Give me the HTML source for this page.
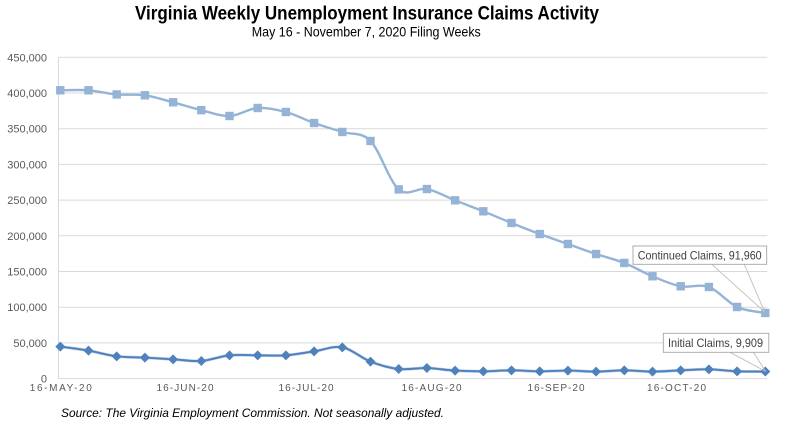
<!DOCTYPE html>
<html>
<head>
<meta charset="utf-8">
<style>
  html, body { margin: 0; padding: 0; background: #ffffff; }
  svg { display: block; }
  text { font-family: "Liberation Sans", sans-serif; }
</style>
</head>
<body>
<svg id="chart" width="796" height="422" viewBox="0 0 796 422" xmlns="http://www.w3.org/2000/svg">
  <rect x="0" y="0" width="796" height="422" fill="#ffffff"/>
  <!-- Title -->
  <text x="367" y="19.5" text-anchor="middle" font-size="19" font-weight="bold" fill="#000000" textLength="464" lengthAdjust="spacingAndGlyphs">Virginia Weekly Unemployment Insurance Claims Activity</text>
  <text x="366.3" y="36.5" text-anchor="middle" font-size="14" fill="#000000" textLength="229" lengthAdjust="spacingAndGlyphs">May 16 - November 7, 2020 Filing Weeks</text>

  <!-- Gridlines -->
  <g stroke="#D9D9D9" stroke-width="1">
    <line x1="58.5" y1="57.3" x2="767.3" y2="57.3"/>
    <line x1="58.5" y1="93" x2="767.3" y2="93"/>
    <line x1="58.5" y1="128.7" x2="767.3" y2="128.7"/>
    <line x1="58.5" y1="164.4" x2="767.3" y2="164.4"/>
    <line x1="58.5" y1="200.1" x2="767.3" y2="200.1"/>
    <line x1="58.5" y1="235.8" x2="767.3" y2="235.8"/>
    <line x1="58.5" y1="271.5" x2="767.3" y2="271.5"/>
    <line x1="58.5" y1="307.2" x2="767.3" y2="307.2"/>
    <line x1="58.5" y1="342.9" x2="767.3" y2="342.9"/>
  </g>
  <!-- Axes -->
  <line x1="58.5" y1="57" x2="58.5" y2="378.6" stroke="#D9D9D9" stroke-width="1"/>
  <line x1="58.5" y1="378.6" x2="767.3" y2="378.6" stroke="#D9D9D9" stroke-width="1"/>

  <!-- Y labels -->
  <g font-size="11" fill="#595959" text-anchor="end">
    <text x="47" y="61.3">450,000</text>
    <text x="47" y="97">400,000</text>
    <text x="47" y="132.7">350,000</text>
    <text x="47" y="168.4">300,000</text>
    <text x="47" y="204.1">250,000</text>
    <text x="47" y="239.8">200,000</text>
    <text x="47" y="275.5">150,000</text>
    <text x="47" y="311.2">100,000</text>
    <text x="47" y="346.9">50,000</text>
    <text x="47" y="382.6">0</text>
  </g>

  <!-- X labels -->
  <g font-size="10" fill="#595959" text-anchor="middle">
    <text x="60.8" y="391" textLength="62" lengthAdjust="spacing">16-MAY-20</text>
    <text x="185" y="391" textLength="57" lengthAdjust="spacing">16-JUN-20</text>
    <text x="306" y="391" textLength="55" lengthAdjust="spacing">16-JUL-20</text>
    <text x="431.5" y="391" textLength="60" lengthAdjust="spacing">16-AUG-20</text>
    <text x="556" y="391" textLength="57" lengthAdjust="spacing">16-SEP-20</text>
    <text x="676.5" y="391" textLength="59" lengthAdjust="spacing">16-OCT-20</text>
  </g>

  <g id="series"></g>

  <!-- Callout leader lines -->
  <g stroke="#BFBFBF" stroke-width="0.9" fill="none">
    <line x1="711.7" y1="264.3" x2="764.7" y2="312"/>
    <line x1="744.3" y1="264.3" x2="764.7" y2="312"/>
    <line x1="730" y1="352.3" x2="765.7" y2="371.5"/>
    <line x1="753.3" y1="352.3" x2="765.7" y2="371.5"/>
  </g>
  <rect x="633" y="246" width="133.7" height="18.3" fill="#ffffff" stroke="#A6A6A6" stroke-width="0.9"/>
  <text x="699.7" y="259.5" text-anchor="middle" font-size="12" fill="#404040" textLength="124" lengthAdjust="spacingAndGlyphs">Continued Claims, 91,960</text>
  <rect x="663.3" y="333.3" width="105.5" height="19" fill="#ffffff" stroke="#A6A6A6" stroke-width="0.9"/>
  <text x="715.5" y="347" text-anchor="middle" font-size="12" fill="#404040" textLength="95" lengthAdjust="spacingAndGlyphs">Initial Claims, 9,909</text>

  <!-- Source -->
  <text x="61" y="417" font-size="12" font-style="italic" fill="#000000" textLength="383" lengthAdjust="spacingAndGlyphs">Source: The Virginia Employment Commission. Not seasonally adjusted.</text>
</svg>
<script>
(function(){
  var NS = "http://www.w3.org/2000/svg";
  var g = document.getElementById("series");
  function X(i){ return 60.3 + i*28.2; }
  function Y(v){ return 378.6 - v*0.714; }
  var cont = [403.8,403.8,398,396.8,387,376,367.8,379,373.4,358,345.4,332.8,265,265.5,249.7,234.3,218,202.5,188.5,174.5,162,143.3,129.3,128.3,100.3,91.96];
  var init = [44.8,39.2,31.2,29.4,27,24.7,32.6,32.6,32.6,38.2,43.8,23.8,13.5,14.8,11.2,10.2,11.6,10.2,11.2,9.8,11.6,9.8,11.6,13,10.2,9.909];
  function pts(arr){ return arr.map(function(v,i){ return [X(i), Y(v)]; }); }
  function smooth(p){
    var d = "M" + p[0][0].toFixed(2) + "," + p[0][1].toFixed(2);
    for (var i=0;i<p.length-1;i++){
      var p0 = p[i-1]||p[i], p1=p[i], p2=p[i+1], p3=p[i+2]||p[i+1];
      var c1x = p1[0] + (p2[0]-p0[0])/6, c1y = p1[1] + (p2[1]-p0[1])/6;
      var c2x = p2[0] - (p3[0]-p1[0])/6, c2y = p2[1] - (p3[1]-p1[1])/6;
      d += " C" + c1x.toFixed(2)+","+c1y.toFixed(2)+" "+c2x.toFixed(2)+","+c2y.toFixed(2)+" "+p2[0].toFixed(2)+","+p2[1].toFixed(2);
    }
    return d;
  }
  function path(d, color, w){
    var e = document.createElementNS(NS,"path");
    e.setAttribute("d", d); e.setAttribute("fill","none");
    e.setAttribute("stroke", color); e.setAttribute("stroke-width", w);
    e.setAttribute("stroke-linejoin","round"); e.setAttribute("stroke-linecap","round");
    g.appendChild(e);
  }
  var pc = pts(cont), pi = pts(init);
  path(smooth(pc), "#95B3D7", 2.4);
  pc.forEach(function(p){
    var r = document.createElementNS(NS,"rect");
    r.setAttribute("x",(p[0]-4.2).toFixed(2)); r.setAttribute("y",(p[1]-4.2).toFixed(2));
    r.setAttribute("width","8.4"); r.setAttribute("height","8.4");
    r.setAttribute("fill","#95B3D7");
    g.appendChild(r);
  });
  path(smooth(pi), "#B4C9E3", 3.0);
  path(smooth(pi), "#4F81BD", 1.9);
  pi.forEach(function(p){
    var s = document.createElementNS(NS,"polygon");
    var x=p[0], y=p[1], h=5.0;
    s.setAttribute("points", x+","+(y-h)+" "+(x+h)+","+y+" "+x+","+(y+h)+" "+(x-h)+","+y);
    s.setAttribute("fill","#4F81BD");
    g.appendChild(s);
  });
})();
</script>
</body>
</html>
